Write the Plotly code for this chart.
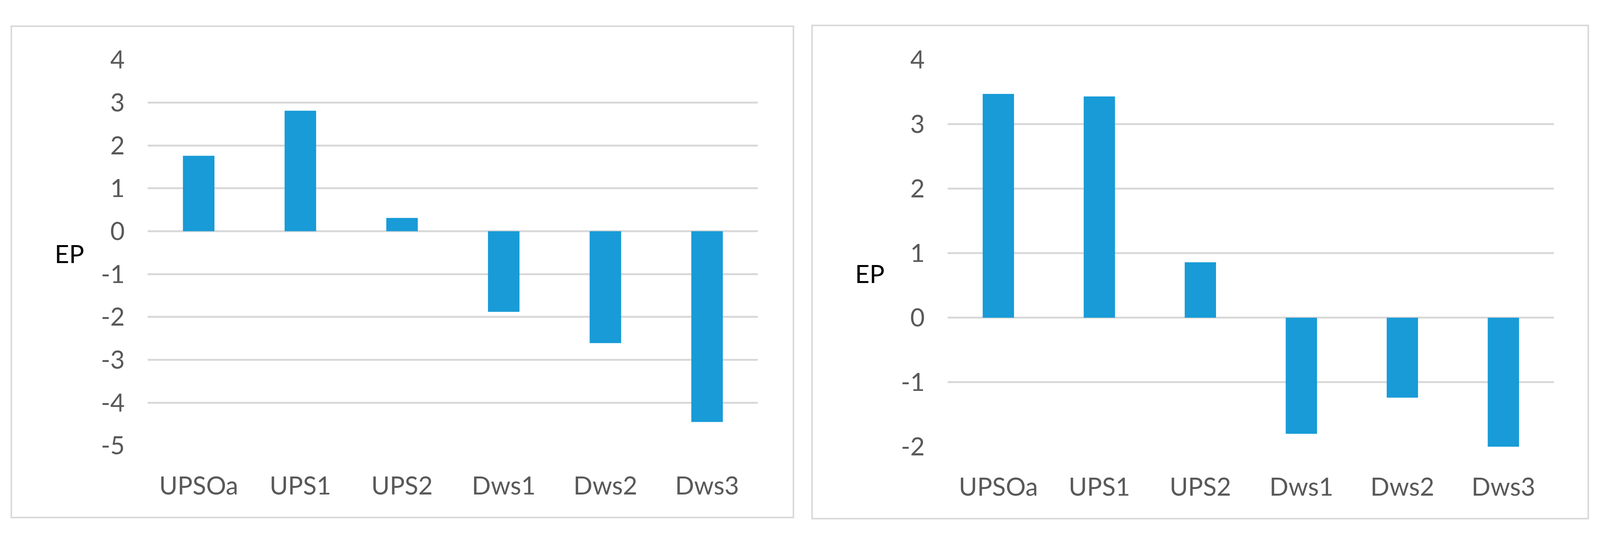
import plotly.graph_objects as go

# Reference picture is 4372x1384; the page is photographed through a 4096x1384 viewport
REF_W, REF_H = 4372, 1384
VIEW_W, VIEW_H = 4096, 1384
BODY = 8
W, H = VIEW_W - 2 * BODY, VIEW_H - 2 * BODY

categories = ["UPSOa", "UPS1", "UPS2", "Dws1", "Dws2", "Dws3"]
left_values = [1.76, 2.81, 0.31, -1.88, -2.61, -4.45]
right_values = [3.47, 3.43, 0.86, -1.80, -1.24, -2.02]
left_ticks = [4, 3, 2, 1, 0, -1, -2, -3, -4, -5]
left_tick_labels = ["4", "3", "2", "1", "0", "-1", "-2", "-3", "-4", "-5"]
right_ticks = [4, 3, 2, 1, 0, -1, -2]
right_tick_labels = ["4", "3", "2", "1", "0", "-1", "-2"]

BAR = "#189bd7"
GRID = "#d9d9d9"
TXT = "#595959"
FONT = "Lato"
FS = 64


def fx(X):
    return (X * VIEW_W / REF_W - BODY) / W


def fy(Y):
    return 1 - (Y * VIEW_H / REF_H - BODY) / H


fig = go.Figure()
fig.add_trace(go.Bar(x=categories, y=left_values, marker=dict(color=BAR, line=dict(width=0)),
                     width=0.31, xaxis="x", yaxis="y", showlegend=False))
fig.add_trace(go.Bar(x=categories, y=right_values, marker=dict(color=BAR, line=dict(width=0)),
                     width=0.31, xaxis="x2", yaxis="y2", showlegend=False))

common_x = dict(showgrid=False, zeroline=False, showline=False, ticks="",
                tickfont=dict(family=FONT, size=FS, color=TXT), ticklabelstandoff=60,
                range=[-0.5, 5.5], fixedrange=True)
common_y = dict(showgrid=True, gridcolor=GRID, gridwidth=5, zeroline=False, showline=False,
                ticks="", tickfont=dict(family=FONT, size=FS, color=TXT), ticklabelstandoff=58,
                fixedrange=True)

fig.update_layout(
    width=W, height=H,
    margin=dict(l=0, r=0, t=0, b=0),
    paper_bgcolor="white", plot_bgcolor="white",
    xaxis=dict(domain=[fx(404), fx(2071)], anchor="y", **common_x),
    yaxis=dict(domain=[fy(1164), fy(118)], anchor="x", range=[-5, 4],
               tickmode="array", tickvals=left_ticks, ticktext=left_tick_labels, **common_y),
    xaxis2=dict(domain=[fx(2590), fx(4246)], anchor="y2", **common_x),
    yaxis2=dict(domain=[fy(1167), fy(118)], anchor="x2", range=[-2, 4],
                tickmode="array", tickvals=right_ticks, ticktext=right_tick_labels, **common_y),
    shapes=[
        dict(type="rect", xref="paper", yref="paper", x0=fx(31), x1=fx(2168),
             y0=fy(1359), y1=fy(27), line=dict(color=GRID, width=4), layer="below"),
        dict(type="rect", xref="paper", yref="paper", x0=fx(2219), x1=fx(4340),
             y0=fy(1362), y1=fy(25), line=dict(color=GRID, width=4), layer="below"),
    ],
    annotations=[
        dict(text="EP", xref="paper", yref="paper", x=fx(189), y=fy(643),
             showarrow=False, font=dict(family=FONT, size=FS, color="black"),
             xanchor="center", yanchor="middle"),
        dict(text="EP", xref="paper", yref="paper", x=fx(2376), y=fy(697),
             showarrow=False, font=dict(family=FONT, size=FS, color="black"),
             xanchor="center", yanchor="middle"),
    ],
)

fig.write_html("out.html", config={"displayModeBar": False})
